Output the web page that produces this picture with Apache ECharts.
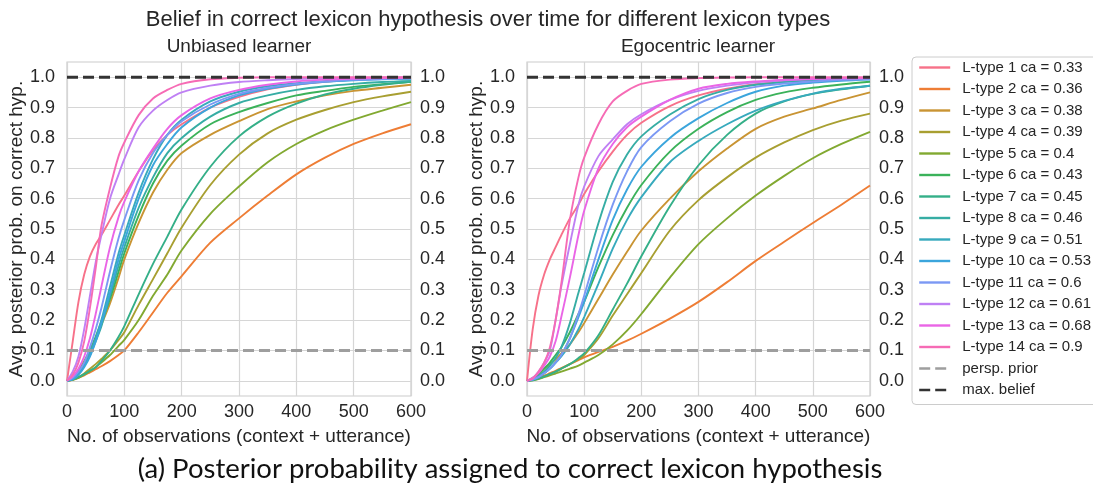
<!DOCTYPE html>
<html>
<head>
<meta charset="utf-8">
<script src="https://cdn.jsdelivr.net/npm/echarts@6/dist/echarts.min.js"></script>
<style>
  html, body { margin: 0; padding: 0; background: #ffffff; }
  #chart { width: 1093px; height: 490px; }
</style>
</head>
<body>
<div id="chart"></div>
<script>
// Number of observations at which the averaged posterior was sampled
const obs = [0, 10, 20, 30, 40, 50, 60, 75, 90, 100, 125, 150, 175, 200, 250, 300, 350, 400, 450, 500, 550, 600];

// Lexicon types and their ca values
const lexTypes = [1, 2, 3, 4, 5, 6, 7, 8, 9, 10, 11, 12, 13, 14];
const caValues = [0.33, 0.36, 0.38, 0.39, 0.4, 0.43, 0.45, 0.46, 0.51, 0.53, 0.6, 0.61, 0.68, 0.9];

// Unbiased learner: avg. posterior on the correct hypothesis per lexicon type
const ub1  = [0, 0.13, 0.26, 0.35, 0.41, 0.45, 0.48, 0.53, 0.58, 0.61, 0.69, 0.76, 0.81, 0.845, 0.90, 0.935, 0.96, 0.975, 0.985, 0.992, 0.996, 0.998];
const ub2  = [0, 0.003, 0.01, 0.018, 0.028, 0.038, 0.048, 0.065, 0.085, 0.10, 0.16, 0.225, 0.29, 0.345, 0.455, 0.535, 0.61, 0.68, 0.735, 0.78, 0.815, 0.845];
const ub3  = [0, 0.012, 0.035, 0.065, 0.10, 0.14, 0.185, 0.255, 0.34, 0.40, 0.52, 0.62, 0.695, 0.75, 0.81, 0.855, 0.895, 0.92, 0.94, 0.955, 0.965, 0.975];
const ub4  = [0, 0.004, 0.012, 0.024, 0.04, 0.055, 0.072, 0.10, 0.135, 0.16, 0.25, 0.335, 0.42, 0.505, 0.645, 0.745, 0.815, 0.86, 0.892, 0.918, 0.937, 0.952];
const ub5  = [0, 0.003, 0.01, 0.02, 0.032, 0.045, 0.06, 0.085, 0.115, 0.135, 0.20, 0.28, 0.35, 0.43, 0.55, 0.64, 0.72, 0.78, 0.825, 0.86, 0.89, 0.918];
const ub6  = [0, 0.01, 0.03, 0.06, 0.10, 0.145, 0.195, 0.27, 0.36, 0.42, 0.545, 0.65, 0.725, 0.775, 0.845, 0.885, 0.915, 0.94, 0.955, 0.968, 0.977, 0.985];
const ub7  = [0, 0.004, 0.012, 0.022, 0.033, 0.045, 0.065, 0.10, 0.145, 0.18, 0.285, 0.385, 0.475, 0.565, 0.705, 0.805, 0.87, 0.913, 0.943, 0.962, 0.975, 0.985];
const ub8  = [0, 0.008, 0.025, 0.05, 0.085, 0.13, 0.18, 0.28, 0.38, 0.44, 0.57, 0.67, 0.75, 0.80, 0.87, 0.915, 0.94, 0.958, 0.97, 0.978, 0.984, 0.988];
const ub9  = [0, 0.008, 0.025, 0.05, 0.09, 0.14, 0.20, 0.31, 0.42, 0.48, 0.62, 0.73, 0.81, 0.86, 0.92, 0.952, 0.97, 0.98, 0.987, 0.991, 0.994, 0.996];
const ub10 = [0, 0.005, 0.02, 0.045, 0.08, 0.13, 0.19, 0.29, 0.40, 0.46, 0.60, 0.71, 0.78, 0.835, 0.90, 0.94, 0.962, 0.976, 0.985, 0.99, 0.993, 0.995];
const ub11 = [0, 0.01, 0.03, 0.06, 0.11, 0.17, 0.24, 0.36, 0.47, 0.53, 0.66, 0.75, 0.81, 0.855, 0.91, 0.945, 0.965, 0.978, 0.986, 0.991, 0.994, 0.996];
const ub12 = [0, 0.03, 0.08, 0.17, 0.28, 0.39, 0.48, 0.60, 0.68, 0.73, 0.835, 0.89, 0.925, 0.95, 0.972, 0.984, 0.99, 0.994, 0.996, 0.998, 0.999, 1.0];
const ub13 = [0, 0.015, 0.04, 0.08, 0.14, 0.22, 0.31, 0.44, 0.54, 0.59, 0.69, 0.765, 0.83, 0.875, 0.93, 0.958, 0.975, 0.986, 0.992, 0.995, 0.997, 0.998];
const ub14 = [0, 0.02, 0.06, 0.13, 0.24, 0.37, 0.51, 0.635, 0.74, 0.785, 0.875, 0.93, 0.958, 0.978, 0.993, 0.998, 1.0, 1.0, 1.0, 1.0, 1.0, 1.0];

// Egocentric learner: avg. posterior on the correct hypothesis per lexicon type
const eg1  = [0, 0.17, 0.28, 0.35, 0.40, 0.44, 0.48, 0.535, 0.58, 0.615, 0.69, 0.755, 0.81, 0.85, 0.905, 0.94, 0.962, 0.977, 0.987, 0.993, 0.996, 0.998];
const eg2  = [0, 0.004, 0.01, 0.017, 0.025, 0.033, 0.042, 0.055, 0.068, 0.077, 0.095, 0.112, 0.132, 0.155, 0.205, 0.26, 0.325, 0.395, 0.458, 0.52, 0.58, 0.643];
const eg3  = [0, 0.01, 0.025, 0.04, 0.055, 0.07, 0.09, 0.12, 0.16, 0.19, 0.27, 0.35, 0.425, 0.495, 0.60, 0.69, 0.765, 0.83, 0.87, 0.897, 0.925, 0.95];
const eg4  = [0, 0.003, 0.008, 0.015, 0.022, 0.03, 0.04, 0.055, 0.07, 0.085, 0.14, 0.215, 0.285, 0.355, 0.495, 0.595, 0.67, 0.735, 0.785, 0.826, 0.857, 0.88];
const eg5  = [0, 0.002, 0.006, 0.012, 0.018, 0.024, 0.03, 0.04, 0.05, 0.06, 0.085, 0.12, 0.165, 0.22, 0.34, 0.45, 0.535, 0.61, 0.675, 0.733, 0.78, 0.82];
const eg6  = [0, 0.006, 0.02, 0.04, 0.06, 0.085, 0.11, 0.16, 0.22, 0.26, 0.375, 0.48, 0.57, 0.645, 0.755, 0.83, 0.885, 0.925, 0.95, 0.965, 0.976, 0.985];
const eg7  = [0, 0.002, 0.007, 0.014, 0.022, 0.03, 0.04, 0.055, 0.075, 0.09, 0.15, 0.235, 0.32, 0.41, 0.575, 0.71, 0.81, 0.88, 0.92, 0.945, 0.96, 0.972];
const eg8  = [0, 0.005, 0.015, 0.03, 0.05, 0.075, 0.11, 0.19, 0.29, 0.355, 0.52, 0.655, 0.745, 0.805, 0.877, 0.928, 0.958, 0.975, 0.984, 0.99, 0.993, 0.995];
const eg9  = [0, 0.004, 0.012, 0.025, 0.04, 0.06, 0.08, 0.12, 0.17, 0.21, 0.32, 0.435, 0.53, 0.605, 0.72, 0.79, 0.845, 0.89, 0.922, 0.946, 0.962, 0.972];
const eg10 = [0, 0.004, 0.012, 0.025, 0.04, 0.06, 0.085, 0.14, 0.21, 0.26, 0.40, 0.53, 0.63, 0.705, 0.80, 0.865, 0.915, 0.952, 0.972, 0.982, 0.988, 0.992];
const eg11 = [0, 0.004, 0.012, 0.025, 0.04, 0.06, 0.085, 0.14, 0.22, 0.28, 0.44, 0.58, 0.69, 0.77, 0.855, 0.913, 0.948, 0.968, 0.979, 0.986, 0.991, 0.994];
const eg12 = [0, 0.01, 0.03, 0.06, 0.10, 0.20, 0.31, 0.45, 0.58, 0.64, 0.74, 0.795, 0.845, 0.878, 0.925, 0.955, 0.972, 0.983, 0.99, 0.994, 0.996, 0.997];
const eg13 = [0, 0.008, 0.025, 0.05, 0.08, 0.13, 0.21, 0.34, 0.48, 0.56, 0.70, 0.78, 0.835, 0.87, 0.925, 0.962, 0.978, 0.986, 0.991, 0.994, 0.996, 0.997];
const eg14 = [0, 0.008, 0.03, 0.06, 0.11, 0.20, 0.32, 0.53, 0.67, 0.735, 0.845, 0.92, 0.955, 0.978, 0.992, 0.997, 0.999, 1.0, 1.0, 1.0, 1.0, 1.0];

const unbiasedCurves = [ub1, ub2, ub3, ub4, ub5, ub6, ub7, ub8, ub9, ub10, ub11, ub12, ub13, ub14];
const egocentricCurves = [eg1, eg2, eg3, eg4, eg5, eg6, eg7, eg8, eg9, eg10, eg11, eg12, eg13, eg14];

// Reference levels
const perspPrior = 0.1;
const maxBelief = 1.0;
const xRange = [0, 600];

// husl-style palette, one colour per lexicon type
const palette = ['#f77189', '#ee7d35', '#c99433', '#a89f31', '#82a931', '#3bb25a', '#34af88',
                 '#36ada4', '#37aabd', '#3ba5dc', '#7b98f4', '#bf80f4', '#ea65e6', '#f66bb5'];

const FONT = '"Liberation Sans", Arial, sans-serif';
const TEXT = '#262626';
const GRIDLINE = '#d6d6d6';

const typeNames = lexTypes.map((t, i) => 'L-type ' + t + ' ca = ' + caValues[i]);

const chart = echarts.init(document.getElementById('chart'), null, { renderer: 'canvas' });

// Panel geometry: outer frame spans -0.05..1.05, inner band spans 0..1
const panelTop = 62, panelHeight = 334;
const innerTop = panelTop + panelHeight * 0.05 / 1.1;
const innerHeight = panelHeight / 1.1;
const panels = [
  { left: 67, width: 344, curves: unbiasedCurves, title: 'Unbiased learner', nameGap: 39 },
  { left: 527, width: 343, curves: egocentricCurves, title: 'Egocentric learner', nameGap: 41 }
];

const grid = [], xAxis = [], yAxis = [], series = [];
const labelStyle = { fontSize: 18, color: TEXT, fontFamily: FONT };

panels.forEach((p) => {
  const outerGrid = grid.length;
  grid.push({ left: p.left, top: panelTop, width: p.width, height: panelHeight, show: true,
              borderColor: '#cccccc', borderWidth: 1.2, backgroundColor: 'transparent' });
  const innerGrid = grid.length;
  grid.push({ left: p.left, top: innerTop, width: p.width, height: innerHeight, show: false });

  const xOuter = xAxis.length;
  xAxis.push({
    gridIndex: outerGrid, type: 'value', min: xRange[0], max: xRange[1], interval: 100,
    axisLine: { show: false }, axisTick: { show: false },
    axisLabel: Object.assign({ margin: 7 }, labelStyle),
    splitLine: { show: true, lineStyle: { color: GRIDLINE, width: 1.2 } },
    name: 'No. of observations (context + utterance)', nameLocation: 'middle', nameGap: 31,
    nameTextStyle: { fontSize: 19, color: TEXT, fontFamily: FONT }
  });
  xAxis.push({ gridIndex: innerGrid, type: 'value', min: xRange[0], max: xRange[1], show: false });

  const yOuter = yAxis.length;
  yAxis.push({ gridIndex: outerGrid, type: 'value', min: -0.05, max: 1.05, show: false });
  yAxis.push({
    gridIndex: innerGrid, type: 'value', min: 0, max: 1, interval: 0.1, position: 'left',
    axisLine: { show: false }, axisTick: { show: false },
    axisLabel: Object.assign({ margin: 12, formatter: v => v.toFixed(1) }, labelStyle),
    splitLine: { show: true, lineStyle: { color: GRIDLINE, width: 1.2 } },
    name: 'Avg. posterior prob. on correct hyp.', nameLocation: 'middle', nameGap: p.nameGap,
    nameTextStyle: { fontSize: 19, color: TEXT, fontFamily: FONT }
  });
  yAxis.push({
    gridIndex: innerGrid, type: 'value', min: 0, max: 1, interval: 0.1, position: 'right',
    axisLine: { show: false }, axisTick: { show: false },
    axisLabel: Object.assign({ margin: 9, formatter: v => v.toFixed(1) }, labelStyle),
    splitLine: { show: false }
  });

  p.curves.forEach((vals, i) => {
    series.push({
      name: typeNames[i], type: 'line', xAxisIndex: xOuter, yAxisIndex: yOuter,
      data: obs.map((x, j) => [x, vals[j]]),
      showSymbol: false, symbol: 'none', smooth: 0.3,
      lineStyle: { color: palette[i], width: 1.9 }, itemStyle: { color: palette[i] },
      z: 2
    });
  });

  series.push({
    name: 'persp. prior', type: 'line', xAxisIndex: xOuter, yAxisIndex: yOuter,
    data: xRange.map(x => [x, perspPrior]), symbol: 'none',
    lineStyle: { color: '#9e9e9e', width: 3, type: [11, 5] }, itemStyle: { color: '#9e9e9e' }, z: 3
  });
  series.push({
    name: 'max. belief', type: 'line', xAxisIndex: xOuter, yAxisIndex: yOuter,
    data: xRange.map(x => [x, maxBelief]), symbol: 'none',
    lineStyle: { color: '#333333', width: 3, type: [11, 5] }, itemStyle: { color: '#333333' }, z: 3
  });
});

const option = {
  animation: false,
  backgroundColor: '#ffffff',
  textStyle: { fontFamily: FONT },
  title: [
    { text: 'Belief in correct lexicon hypothesis over time for different lexicon types',
      left: 488, top: 9, padding: 0,
      textStyle: { fontSize: 22, fontWeight: 'normal', color: TEXT, fontFamily: FONT } },
    { text: panels[0].title, left: 239, top: 37, padding: 0,
      textStyle: { fontSize: 19, fontWeight: 'normal', color: TEXT, fontFamily: FONT } },
    { text: panels[1].title, left: 698, top: 37, padding: 0,
      textStyle: { fontSize: 19, fontWeight: 'normal', color: TEXT, fontFamily: FONT } },
    { text: '(a) Posterior probability assigned to correct lexicon hypothesis',
      left: 510, top: 455, padding: 0,
      textStyle: { fontSize: 27.5, fontWeight: 'normal', color: '#111111', fontFamily: 'Lato, "Open Sans", sans-serif' } }
  ].map(t => Object.assign(t, { textAlign: 'center' })),
  legend: {
    orient: 'vertical', left: 912, top: 57, padding: [3, 6, 7, 6],
    itemWidth: 31, itemHeight: 12, itemGap: 6.5,
    backgroundColor: '#ffffff', borderColor: '#cccccc', borderWidth: 1, borderRadius: 4,
    itemStyle: { opacity: 0 },
    lineStyle: { width: 2.4 },
    textStyle: { fontSize: 15, color: TEXT, fontFamily: FONT, padding: [0, 0, 0, 7] },
    data: typeNames.concat(['persp. prior', 'max. belief'])
  },
  grid: grid,
  xAxis: xAxis,
  yAxis: yAxis,
  series: series
};

chart.setOption(option);
</script>
</body>
</html>
